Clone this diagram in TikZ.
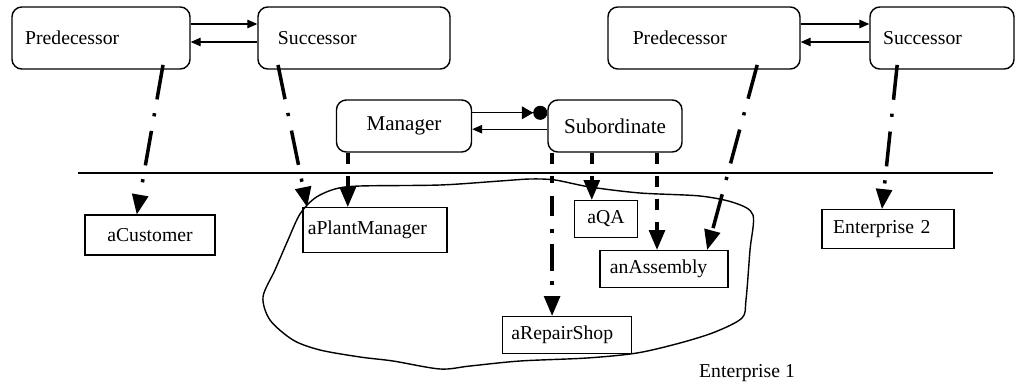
\documentclass[tikz,border=0pt]{standalone}
\usepackage{fontspec}
\setmainfont{Liberation Serif}
\usetikzlibrary{arrows.meta, positioning}

\begin{document}
\begin{tikzpicture}[x=0.025cm, y=-0.025cm, font=\fontsize{14}{16}\selectfont]
\tikzstyle{rolebox} = [draw, line width=1pt, rounded corners=7pt, minimum height=1.55cm, align=left]
\tikzstyle{objbox} = [draw, line width=1pt, minimum height=0.93cm, align=left]
\tikzstyle{link} = [line width=0.8pt, -{Triangle[length=7pt, width=6pt]}]
\tikzstyle{headtip} = [-{Triangle[length=14pt, width=12pt, line width=0pt]}]
\tikzstyle{binding} = [line width=2.5pt, dash pattern=on 0.875cm off 0.35cm on 0.08cm off 0.37cm, headtip]
\tikzstyle{delegate} = [line width=2.8pt, dash pattern=on 0.275cm off 0.3cm, headtip]
\useasboundingbox (0,0) rectangle (1019,388);

% role pairs
\node (pred1) [rolebox, inner xsep=0.33cm, text width=3.79cm] at (101,38) {Predecessor};
\node (succ1) [rolebox, inner xsep=0.5cm, text width=3.8cm] at (354,38) {Successor};
\node (pred2) [rolebox, inner xsep=0.62cm, text width=3.56cm] at (704,38) {Predecessor};
\node (succ2) [rolebox, inner xsep=0.33cm, text width=2.94cm] at (942,38) {Successor};
\node (mgr) [rolebox, minimum width=3.375cm, minimum height=1.3cm, font=\fontsize{15}{17}\selectfont] at (404,126) {Manager};
\node (sub) [rolebox, minimum width=3.35cm, minimum height=1.3cm, font=\fontsize{15}{17}\selectfont] at (615,126) {Subordinate};

\draw[link] ([yshift=0.35cm]pred1.east) -- ([yshift=0.35cm]succ1.west);
\draw[link] ([yshift=-0.1cm]succ1.west) -- ([yshift=-0.1cm]pred1.east);
\draw[link] ([yshift=0.35cm]pred2.east) -- ([yshift=0.35cm]succ2.west);
\draw[link] ([yshift=-0.1cm]succ2.west) -- ([yshift=-0.1cm]pred2.east);
\draw[line width=0.8pt, -{Triangle[length=8pt, width=9pt] Circle[length=10pt]}] ([yshift=0.33cm]mgr.east) -- ([yshift=0.33cm]sub.west);
\draw[link] ([yshift=-0.08cm]sub.west) -- ([yshift=-0.08cm]mgr.east);

% separator
\coordinate (sepL) at (78,173);
\coordinate (sepR) at (993,173);
\draw[line width=1.5pt] (sepL) -- (sepR);

% enterprise 1 outline
\draw[line width=1pt] plot[smooth cycle] coordinates {(300,214) (315,198) (335,189) (360,186) (440,185) (500,181) (530,179) (555,180) (590,187) (640,193) (700,196) (735,203) (753,215) (750,250) (746,300) (742,318) (715,332) (680,343) (637,353) (587,358) (520,361) (470,366) (440,369) (393,361) (360,357) (320,350) (293,340) (270,320) (263,297) (275,270) (288,240)};

% objects
\node (cust) [objbox, minimum width=3.25cm, minimum height=1cm] at (150,235) {aCustomer};
\node (apm) [objbox, inner xsep=0.12cm, text width=3.36cm, minimum height=1.125cm] at (375,230) {aPlantManager};
\node (aqa) [objbox, minimum width=1.575cm] at (606,219) {aQA};
\node (asm) [objbox, inner xsep=0.25cm, text width=2.7cm] at (664,269) {anAssembly};
\node (shop) [objbox, inner xsep=0.22cm, text width=2.78cm] at (567,335) {aRepairShop};
\node (ent2) [objbox, inner xsep=0.28cm, text width=2.74cm, minimum height=0.975cm] at (888,229) {Enterprise 2};
\node (ent1) at (747,373) {Enterprise 1};

% role bindings
\draw[binding] ([xshift=1.55cm, yshift=0.12cm]pred1.south) -- ([xshift=-0.33cm]cust.north);
\draw[binding] ([xshift=-1.9cm, yshift=0.12cm]succ1.south) -- ([xshift=0.12cm]apm.north west);
\draw[binding] ([xshift=1.33cm, yshift=0.12cm]pred2.south) -- ([xshift=1.08cm]asm.north);
\draw[binding] ([xshift=-1.12cm, yshift=0.12cm]succ2.south) -- ([xshift=-0.15cm]ent2.north);

\coordinate (mgrtap) at ([xshift=0.3cm]mgr.south west);
\coordinate (subtapA) at ([xshift=0.12cm]sub.south west);
\coordinate (subtapB) at ([xshift=-0.58cm]sub.south);
\coordinate (subtapC) at ([xshift=1.05cm]sub.south);
\draw[delegate] (mgrtap) -- (mgrtap |- apm.north);
\draw[delegate] (subtapB) -- (subtapB |- aqa.north);
\draw[delegate] (subtapC) -- (subtapC |- asm.north);
\draw[binding, dash pattern=on 0.275cm off 0.3cm on 0.175cm off 0.325cm on 0.5cm off 0.325cm on 0.1cm off 0.275cm on 0.675cm off 0.25cm on 0.1cm off 1cm] (subtapA) -- (subtapA |- shop.north);

\end{tikzpicture}
\end{document}
